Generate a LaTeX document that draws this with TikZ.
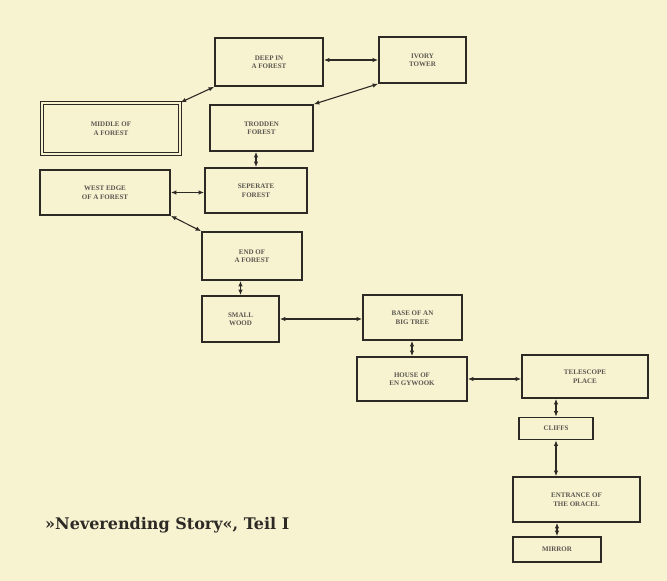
\documentclass[tikz,border=0pt]{standalone}
\usepackage{fontspec}
\setmainfont{Liberation Serif}
\newfontfamily\titlefont{DejaVu Serif}
\usepackage{xcolor}
\usepackage{tikz}
\usetikzlibrary{arrows.meta,positioning,calc}
\definecolor{paper}{RGB}{247,242,208}
\definecolor{ink}{RGB}{45,42,38}
\definecolor{labelgray}{RGB}{90,87,80}

\begin{document}
\begin{tikzpicture}[x=1pt, y=-1pt,
  room/.style={draw=ink, line width=1.7pt, fill=paper, rectangle, inner sep=0pt,
    align=center, text=labelgray, font=\bfseries\fontsize{7}{8.5}\selectfont},
  link/.style={draw=ink, line width=1.1pt, {Latex[length=5.5pt,width=4.5pt]}-{Latex[length=5.5pt,width=4.5pt]}}]

% Paper and page size
\fill[paper] (0,0) rectangle (667,581);
\useasboundingbox (0,0) rectangle (667,581);

% Forest rooms (top left)
\node[room, minimum width=108pt, minimum height=48pt] (deep) at (269,62) {DEEP IN\\A FOREST};
\node[room, minimum width=87pt, minimum height=46pt] (ivory) at (422.5,60) {IVORY\\TOWER};
\node[room, line width=1.3pt, double=paper, double distance=1.5pt,
  minimum width=138pt, minimum height=51pt] (middle) at (111,128.5) {MIDDLE OF\\A FOREST};
\node[room, minimum width=103pt, minimum height=46pt] (trodden) at (261.5,128) {TRODDEN\\FOREST};
\node[room, minimum width=130pt, minimum height=45pt] (west) at (105,192.5) {WEST EDGE\\OF A FOREST};
\node[room, minimum width=102pt, minimum height=45pt] (seperate) at (256,190.5) {SEPERATE\\FOREST};
\node[room, minimum width=100pt, minimum height=48pt] (endf) at (252,256) {END OF\\A FOREST};

% Wood and tree (middle)
\node[room, minimum width=77pt, minimum height=46pt] (small) at (240.5,319) {SMALL\\WOOD};
\node[room, minimum width=99pt, minimum height=45pt] (base) at (412.5,317.5) {BASE OF AN\\BIG TREE};
\node[room, minimum width=110pt, minimum height=44pt] (house) at (412,379) {HOUSE OF\\EN GYWOOK};

% Oracle path (right)
\node[room, minimum width=126pt, minimum height=43pt] (tele) at (585,376.5) {TELESCOPE\\PLACE};
\node[room, minimum width=74pt, minimum height=22pt] (cliffs) at (556,428.5) {CLIFFS};
\node[room, minimum width=127pt, minimum height=45pt] (entrance) at (576.5,499.5) {ENTRANCE OF\\THE ORACEL};
\node[room, minimum width=88pt, minimum height=25pt] (mirror) at (557,549.5) {MIRROR};

% Two-way exits
\draw[link] (ivory.west -| deep.east) -- (ivory.west);
\draw[link] (trodden.north east) -- (ivory.south west);
\draw[link] (middle.north east) -- (deep.south west);
\draw[link] (seperate.north) -- (seperate.north |- trodden.south);
\draw[link] (west.east) -- (west.east -| seperate.west);
\draw[link] (west.south east) -- (endf.north west);
\draw[link] (small.north) -- (small.north |- endf.south);
\draw[link] (small.east) -- (small.east -| base.west);
\draw[link] (house.north) -- (house.north |- base.south);
\draw[link] (house.east) -- (house.east -| tele.west);
\draw[link] (cliffs.north) -- (cliffs.north |- tele.south);
\draw[link] (cliffs.south) -- (cliffs.south |- entrance.north);
\draw[link] (mirror.north) -- (mirror.north |- entrance.south);

% Caption
\node[anchor=base west, inner sep=0pt, text=ink, font=\titlefont\bfseries\fontsize{16}{18}\selectfont]
  (caption) at (45,529) {»Neverending Story«, Teil I};

\end{tikzpicture}
\end{document}
